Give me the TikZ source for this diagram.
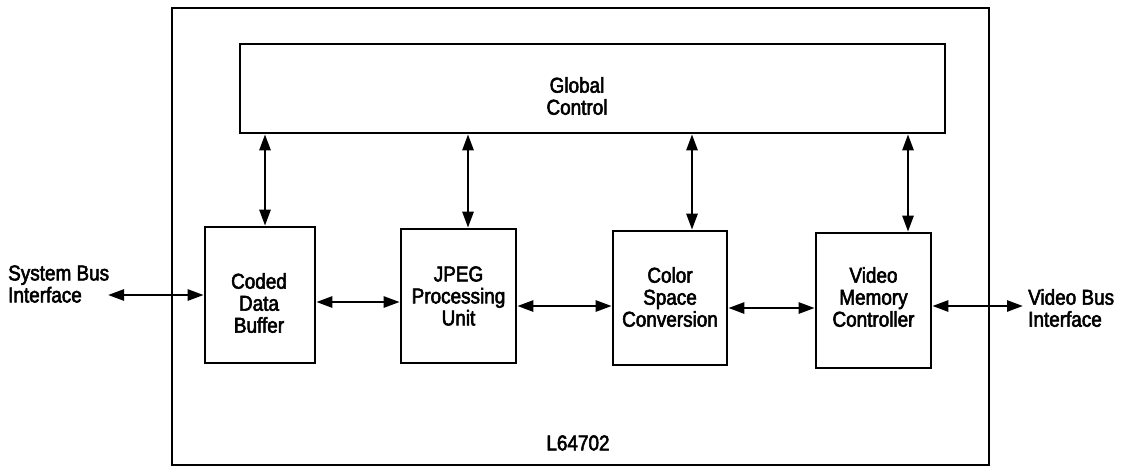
\documentclass[tikz,border=0pt]{standalone}
\usepackage{fontspec}
\setmainfont{Liberation Sans}[FakeStretch=0.88,FakeBold=2.6]
\usetikzlibrary{arrows.meta}
\begin{document}
\begin{tikzpicture}[x=1pt,y=-1pt,
  box/.style={draw, line width=2.6pt, inner sep=0pt},
  lbl/.style={align=center, inner sep=0pt, font=\fontsize{21.5}{22}\selectfont},
  bi/.style={line width=2.6pt, {Triangle[length=16pt,width=11pt]}-{Triangle[length=16pt,width=11pt]}}]
\useasboundingbox (0,0) rectangle (1131,469);
% outer chip
\node[box, minimum width=817pt, minimum height=457pt] (chip) at (580.5,236.5) {};
\node[lbl] (chipname) at (578,443) {L64702};
% global control
\node[box, minimum width=705pt, minimum height=89pt] (gc) at (592.5,88.5) {};
\node[lbl] (gct) at (577,96) {Global\\Control};
% blocks
\node[box, minimum width=110pt, minimum height=136pt] (cdb) at (260,295) {};
\node[lbl] (cdbt) at (259,303) {Coded\\Data\\Buffer};
\node[box, minimum width=115pt, minimum height=134pt] (jpeg) at (458.5,296) {};
\node[lbl] (jpegt) at (458.5,296) {JPEG\\Processing\\Unit};
\node[box, minimum width=114pt, minimum height=134pt] (csc) at (670,298) {};
\node[lbl] (csct) at (670,297) {Color\\Space\\Conversion};
\node[box, minimum width=115pt, minimum height=135pt] (vmc) at (873.5,300.5) {};
\node[lbl] (vmct) at (873.5,297) {Video\\Memory\\Controller};
% external labels
\node[lbl, align=left, anchor=west] (sys) at (8,284) {System Bus\\Interface};
\node[lbl, align=left, anchor=west] (vid) at (1028,308) {Video Bus\\Interface};
\coordinate (sysend) at (108,295);
\coordinate (vidend) at (1023,306);
% vertical connectors
\draw[bi] (gc.south -| 265,0) -- (cdb.north -| 265,0);
\draw[bi] (gc.south -| 468,0) -- (jpeg.north -| 468,0);
\draw[bi] (gc.south -| 692,0) -- (csc.north -| 692,0);
\draw[bi] (gc.south -| 908,0) -- (vmc.north -| 908,0);
% horizontal connectors
\draw[bi] (sysend) -- (cdb.west |- sysend);
\draw[bi] (cdb.east |- 0,302) -- (jpeg.west |- 0,302);
\draw[bi] (jpeg.east |- 0,306) -- (csc.west |- 0,306);
\draw[bi] (csc.east |- 0,308) -- (vmc.west |- 0,308);
\draw[bi] (vmc.east |- vidend) -- (vidend);
\end{tikzpicture}
\end{document}
